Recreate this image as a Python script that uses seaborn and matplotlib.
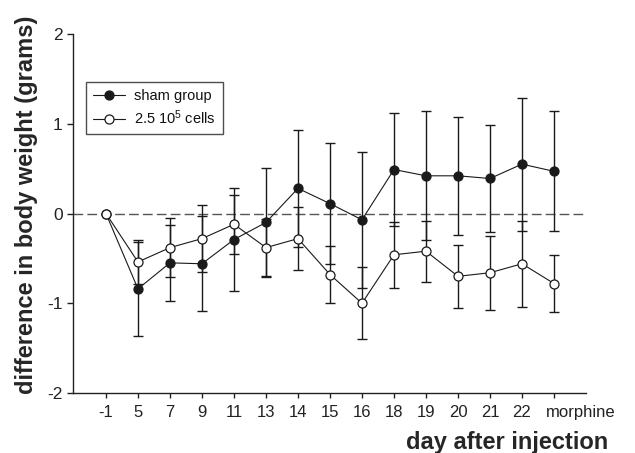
"""Body weight difference after injection: sham vs 2.5 10^5 cells."""

import matplotlib
matplotlib.use("Agg")
import matplotlib.pyplot as plt
import matplotlib.transforms as mtransforms
import numpy as np
import pandas as pd
import seaborn as sns

sns.set_theme(style="ticks")
plt.rcParams.update({
    "font.family": ["Liberation Sans", "DejaVu Sans"],
    "mathtext.default": "regular",
    "axes.unicode_minus": False,
    "axes.edgecolor": "#222222",
    "axes.linewidth": 1.0,
    "xtick.color": "#222222",
    "ytick.color": "#222222",
    "text.color": "#111111",
})

# data
days = ["-1", "5", "7", "9", "11", "13", "14", "15", "16", "18",
        "19", "20", "21", "22", "morphine"]
sham_mean = [0, -0.84, -0.55, -0.56, -0.29, -0.10, 0.28, 0.11, -0.07, 0.49,
             0.42, 0.42, 0.39, 0.55, 0.47]
sham_err = [0, 0.52, 0.42, 0.53, 0.57, 0.61, 0.65, 0.67, 0.76, 0.63,
            0.72, 0.66, 0.60, 0.74, 0.67]
cells_mean = [0, -0.54, -0.38, -0.28, -0.12, -0.38, -0.28, -0.68, -1.00, -0.46,
              -0.42, -0.70, -0.66, -0.56, -0.78]
cells_err = [0, 0.25, 0.33, 0.37, 0.33, 0.32, 0.35, 0.32, 0.40, 0.37,
             0.34, 0.35, 0.41, 0.48, 0.32]
labels = ["sham group", "2.5 10$^5$ cells"]
y_ticks = [-2, -1, 0, 1, 2]

pos = np.arange(len(days))
df = pd.DataFrame({
    "pos": np.concatenate([pos, pos]),
    "value": sham_mean + cells_mean,
    "err": sham_err + cells_err,
    "group": [labels[0]] * len(days) + [labels[1]] * len(days),
})

fig = plt.figure(figsize=(6.35, 4.53), dpi=100)
ax = fig.add_axes([73 / 635, 1 - 393 / 453, 513 / 635, 359 / 453])

ax.axhline(0, color="#555555", lw=1.0, dashes=(7, 3), zorder=1)

faces = {labels[0]: "#1a1a1a", labels[1]: "white"}
for grp in labels:
    sub = df[df["group"] == grp]
    has_err = sub["err"] > 0
    ax.errorbar(sub["pos"][has_err], sub["value"][has_err], yerr=sub["err"][has_err],
                fmt="none", ecolor="#1a1a1a", elinewidth=1.0, capsize=3.6,
                capthick=1.0, zorder=1.5)
    sns.lineplot(data=sub, x="pos", y="value", ax=ax, label=grp,
                 color="#1a1a1a", lw=0.8, marker="o", ms=6.5,
                 mfc=faces[grp], mec="#1a1a1a", mew=0.9, zorder=3)

ax.set_xlim(-1.03, 15)
ax.set_ylim(-2, 2)
ax.set_yticks(y_ticks)
ax.set_xticks(pos)
ax.set_xticklabels(days)
ax.tick_params(axis="y", labelsize=12.5, length=4.5, width=1.0, pad=3)
ax.tick_params(axis="x", labelsize=12, length=3.6, width=1.0, pad=5)
last = ax.get_xticklabels()[-1]
last.set_ha("left")
last.set_transform(last.get_transform()
                   + mtransforms.ScaledTranslation(-8 / 100, 0, fig.dpi_scale_trans))
sns.despine(ax=ax)

ax.set_xlabel("day after injection", fontsize=17, fontweight="bold", ha="right")
ax.xaxis.set_label_coords(1.043, -0.106)
ax.set_ylabel("difference in body weight (grams)", fontsize=17, fontweight="bold")
ax.yaxis.set_label_coords(-0.068, 0.524)

leg = ax.legend(loc="upper left", bbox_to_anchor=(0.025, 0.866), borderaxespad=0,
                fontsize=10.5, frameon=True, fancybox=False, handlelength=2.2,
                handletextpad=0.6, labelspacing=0.35, borderpad=0.5)
leg.get_frame().set_edgecolor("#222222")
leg.get_frame().set_linewidth(1.0)

fig.savefig("out.png", dpi=100)
plt.close(fig)
